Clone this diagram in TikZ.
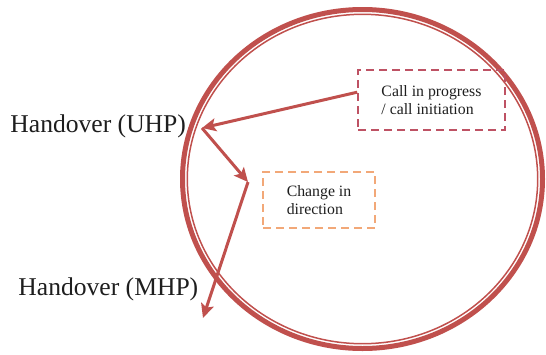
\documentclass[tikz,border=0pt]{standalone}
\usepackage{fontspec}
\setmainfont{Liberation Serif}
\usetikzlibrary{arrows.meta}
\begin{document}
\begin{tikzpicture}[x=0.5pt,y=-0.5pt]
\newcommand{\xunit}{1}
\newcommand{\yunit}{1}
\definecolor{ringcolor}{RGB}{192,80,77}
\definecolor{callcolor}{RGB}{190,82,100}
\definecolor{turncolor}{RGB}{242,168,120}
\definecolor{textcolor}{RGB}{30,30,30}
\tikzstyle{handover}=[inner sep=0pt,anchor=base west,text=textcolor,font=\fontsize{12.8}{15}\selectfont]
\tikzstyle{event}=[draw,dashed,line width=0.8pt,dash pattern=on 4pt off 2.5pt,align=left,inner sep=0pt,text=textcolor,font=\fontsize{7.9}{9}\selectfont]
\tikzstyle{callbox}=[event,callcolor,text=textcolor,minimum width=73.5pt,minimum height=30pt]
\tikzstyle{turnbox}=[event,turncolor,text=textcolor,minimum width=56pt,minimum height=28pt]
\tikzstyle{move}=[ringcolor,line width=1.5pt,-{Stealth[length=7pt,width=6.5pt,inset=1.5pt]}]
\useasboundingbox (0,0) rectangle (546,354);
\draw[ringcolor,line width=2.5pt] (\xunit*362.5,\yunit*179) ellipse [x radius=90pt,y radius=84.75pt];
\draw[ringcolor,line width=0.75pt] (\xunit*362.5,\yunit*179) ellipse [x radius=87.6pt,y radius=82.35pt];
\node[handover] (uhp) at (\xunit*10,\yunit*132) {Handover (UHP)};
\node[handover] (mhp) at (\xunit*18,\yunit*295) {Handover (MHP)};
\node[callbox] (call) at (\xunit*431.5,\yunit*100) {Call in progress\\/ call initiation};
\node[turnbox] (turn) at (\xunit*319,\yunit*200) {Change in\\direction};
\coordinate (uhptip) at (\xunit*202,\yunit*128);
\coordinate (bend) at (\xunit*248,\yunit*182);
\coordinate (mhptip) at (\xunit*203,\yunit*318);
\draw[move] (call.174) -- (uhptip);
\draw[move] (uhptip) -- (bend);
\draw[move] (bend) -- (mhptip);
\end{tikzpicture}
\end{document}
